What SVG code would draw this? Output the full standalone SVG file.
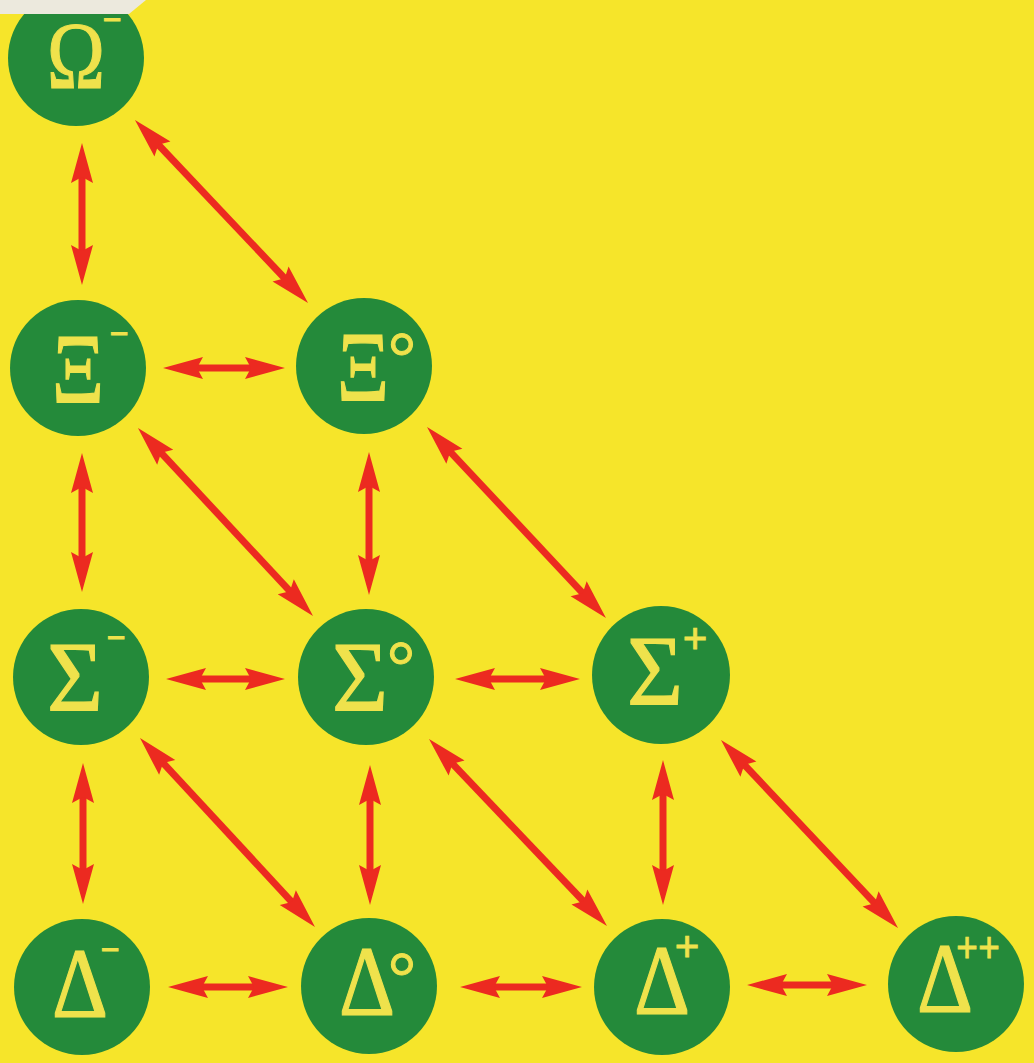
<svg xmlns="http://www.w3.org/2000/svg" width="1034" height="1063" viewBox="0 0 1034 1063">
  <style>
    .ball { fill: #248a3a; }
    .sym { font-family: "Liberation Serif", "Times New Roman", serif; font-size: 100px; fill: #efe24c; stroke: #efe24c; stroke-width: 1.2; text-anchor: middle; }
    .sup { font-size: 34px; font-weight: bold; stroke-width: 1; }
    .deg { font-size: 70px; font-weight: normal; stroke-width: 1; }
    .plus { font-size: 44px; font-weight: bold; stroke-width: 0.8; }
    .link { stroke: #ec2a20; stroke-width: 7; fill: none; marker-start: url(#head); marker-end: url(#head); }
  </style>
  <defs>
    <!-- barbed arrowhead; tip sits 20px past the line end -->
    <marker id="head" markerUnits="userSpaceOnUse" markerWidth="48" markerHeight="26" refX="24" refY="13" orient="auto-start-reverse">
      <path d="M44,13 L4,2 L10,13 L4,24 Z" fill="#ec2a20"/>
    </marker>
  </defs>

  <!-- paper -->
  <rect x="0" y="0" width="1034" height="1063" fill="#f6e52a"/>

  <!-- transitions between multiplet members -->
  <g id="connectors">
    <line class="link" x1="82" y1="163" x2="82" y2="265"/>
    <line class="link" x1="148.7" y1="134.5" x2="294.3" y2="288.5"/>
    <line class="link" x1="183" y1="368" x2="265" y2="368"/>
    <line class="link" x1="82" y1="473" x2="82" y2="572"/>
    <line class="link" x1="151.6" y1="442.6" x2="299.4" y2="601.4"/>
    <line class="link" x1="369" y1="472" x2="369" y2="575"/>
    <line class="link" x1="440.7" y1="441.6" x2="592.3" y2="603.4"/>
    <line class="link" x1="186" y1="679" x2="265" y2="679"/>
    <line class="link" x1="475" y1="679" x2="560" y2="679"/>
    <line class="link" x1="83" y1="783" x2="83" y2="884"/>
    <line class="link" x1="153.6" y1="752.7" x2="301.4" y2="912.3"/>
    <line class="link" x1="370" y1="785" x2="370" y2="885"/>
    <line class="link" x1="442.8" y1="753.5" x2="593.2" y2="911.5"/>
    <line class="link" x1="663" y1="780" x2="663" y2="885"/>
    <line class="link" x1="734.7" y1="754.6" x2="884.3" y2="913.4"/>
    <line class="link" x1="188" y1="987" x2="268" y2="987"/>
    <line class="link" x1="480" y1="987" x2="562" y2="987"/>
    <line class="link" x1="767" y1="985" x2="847" y2="985"/>
  </g>

  <g id="omega-minus">
    <circle class="ball" cx="76" cy="58" r="68"/>
    <text class="sym"><tspan x="76" y="88" font-size="95" textLength="58" lengthAdjust="spacingAndGlyphs">Ω</tspan><tspan class="sup" x="112" y="30.5" textLength="19" lengthAdjust="spacingAndGlyphs">−</tspan></text>
  </g>

  <g id="xi-minus">
    <circle class="ball" cx="78" cy="368" r="68"/>
    <text class="sym"><tspan x="78" y="402" textLength="52" lengthAdjust="spacingAndGlyphs">Ξ</tspan><tspan class="sup" x="119" y="344.5" textLength="19" lengthAdjust="spacingAndGlyphs">−</tspan></text>
  </g>
  <g id="xi-zero">
    <circle class="ball" cx="364" cy="366" r="68"/>
    <text class="sym"><tspan x="363" y="400" textLength="52" lengthAdjust="spacingAndGlyphs">Ξ</tspan><tspan class="deg" x="402" y="380">°</tspan></text>
  </g>

  <g id="sigma-minus">
    <circle class="ball" cx="81" cy="677" r="68"/>
    <text class="sym"><tspan x="75" y="710" textLength="56" lengthAdjust="spacingAndGlyphs">Σ</tspan><tspan class="sup" x="116" y="648.5" textLength="19" lengthAdjust="spacingAndGlyphs">−</tspan></text>
  </g>
  <g id="sigma-zero">
    <circle class="ball" cx="366" cy="677" r="68"/>
    <text class="sym"><tspan x="360" y="710" textLength="56" lengthAdjust="spacingAndGlyphs">Σ</tspan><tspan class="deg" x="401" y="689">°</tspan></text>
  </g>
  <g id="sigma-plus">
    <circle class="ball" cx="661" cy="675" r="69"/>
    <text class="sym"><tspan x="655" y="704" textLength="56" lengthAdjust="spacingAndGlyphs">Σ</tspan><tspan class="plus" x="695" y="653">+</tspan></text>
  </g>

  <g id="delta-minus">
    <circle class="ball" cx="82" cy="987" r="68"/>
    <text class="sym"><tspan x="80" y="1017" textLength="56" lengthAdjust="spacingAndGlyphs">Δ</tspan><tspan class="sup" x="110" y="960.5" textLength="19" lengthAdjust="spacingAndGlyphs">−</tspan></text>
  </g>
  <g id="delta-zero">
    <circle class="ball" cx="369" cy="986" r="68"/>
    <text class="sym"><tspan x="367" y="1015" textLength="56" lengthAdjust="spacingAndGlyphs">Δ</tspan><tspan class="deg" x="402" y="1000">°</tspan></text>
  </g>
  <g id="delta-plus">
    <circle class="ball" cx="662" cy="987" r="68"/>
    <text class="sym"><tspan x="662" y="1014" textLength="56" lengthAdjust="spacingAndGlyphs">Δ</tspan><tspan class="plus" x="687" y="961">+</tspan></text>
  </g>
  <g id="delta-plus-plus">
    <circle class="ball" cx="956" cy="984" r="68"/>
    <text class="sym"><tspan x="945" y="1012" textLength="56" lengthAdjust="spacingAndGlyphs">Δ</tspan><tspan class="plus" x="978" y="962" font-size="40" textLength="44" lengthAdjust="spacingAndGlyphs">++</tspan></text>
  </g>

  <!-- torn paper strip across the top corner -->
  <polygon points="0,0 146,0 129,14 0,14" fill="#ece9dd"/>
</svg>
